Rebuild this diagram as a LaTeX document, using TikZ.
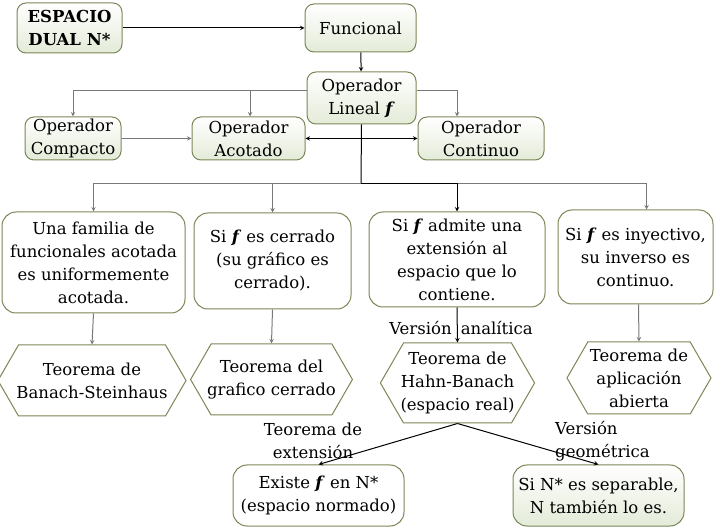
\documentclass[tikz,border=0pt]{standalone}
\usepackage{fontspec}
\setmainfont{DejaVu Serif}
\usepackage{tikz}
\usetikzlibrary{shapes.symbols}
\definecolor{boxline}{RGB}{122,135,86}
\definecolor{boxfill}{RGB}{228,235,216}
\definecolor{linkgray}{RGB}{120,120,120}
\newcommand{\fb}{\textbf{\textit{f}}}

\begin{document}
\begin{tikzpicture}[x=1pt, y=-1pt,
    concept/.style={rectangle, rounded corners=9pt, draw=boxline, line width=1pt, top color=white, bottom color=boxfill, align=center, inner sep=1pt, font=\fontsize{16.5}{23}\selectfont},
    result/.style={rectangle, rounded corners=14pt, draw=boxline, line width=1pt, fill=white, align=center, inner sep=1pt, font=\fontsize{16.5}{23}\selectfont},
    theorem/.style={signal, signal to=west and east, signal pointer angle=120, draw=boxline, line width=1pt, fill=white, align=center, inner sep=1pt, font=\fontsize{16.5}{23}\selectfont},
    tag/.style={align=center, inner sep=0pt, font=\fontsize{16.5}{23}\selectfont},
    dependency/.style={->, >=stealth, line width=1pt},
    branch/.style={->, >=stealth, line width=1pt, draw=linkgray}
]
    \useasboundingbox (0,0) rectangle (721,529);

    % Top row
    \node[concept, minimum width=105pt, minimum height=50pt, font=\fontsize{16.5}{23}\selectfont\bfseries] (dual) at (69.5,28) {ESPACIO\\DUAL N*};
    \node[concept, minimum width=111pt, minimum height=48pt] (funcional) at (360.5,28) {Funcional};
    \node[concept, minimum width=109pt, minimum height=52pt] (lineal) at (361.5,98) {Operador\\Lineal \fb};

    % Operators
    \node[concept, minimum width=96pt, minimum height=43pt] (compacto) at (73,138.5) {Operador\\Compacto};
    \node[concept, minimum width=113pt, minimum height=43pt] (acotado) at (248.5,138.5) {Operador\\Acotado};
    \node[concept, minimum width=126pt, minimum height=43pt] (continuo) at (481,138.5) {Operador\\Continuo};
    \coordinate (hub) at (361,184);

    % Conditions
    \node[result, minimum width=183pt, minimum height=101pt] (familia) at (93.5,262.5) {Una familia de\\funcionales acotada\\es uniformemente\\acotada.};
    \node[result, minimum width=157pt, minimum height=96pt] (cerrado) at (272.5,261) {Si \fb{} es cerrado\\(su gráfico es\\cerrado).};
    \node[result, minimum width=176pt, minimum height=95pt] (extension) at (457,259.5) {Si \fb{} admite una\\extensión al\\espacio que lo\\contiene.};
    \node[result, minimum width=155pt, minimum height=94pt] (inyectivo) at (635.5,257) {Si \fb{} es inyectivo,\\su inverso es\\continuo.};

    % Theorems
    \node[theorem, minimum width=184pt, minimum height=71pt, inner xsep=-2pt] (banach) at (92,380.5) {Teorema de\\Banach-Steinhaus};
    \node[theorem, minimum width=157pt, minimum height=71pt, inner xsep=-4pt] (grafico) at (271.5,379.5) {Teorema del\\grafico cerrado};
    \node[theorem, minimum width=153pt, minimum height=80pt, inner xsep=-3pt] (hahn) at (457.5,383) {Teorema de\\Hahn-Banach\\(espacio real)};
    \node[theorem, minimum width=144pt, minimum height=72pt] (abierta) at (639,378) {Teorema de\\aplicación\\abierta};

    % Consequences
    \node[result, minimum width=171pt, minimum height=61pt] (existe) at (318.5,495.5) {Existe \fb{} en N*\\(espacio normado)};
    \node[concept, rounded corners=14pt, minimum width=171pt, minimum height=61pt] (separable) at (598.5,495.5) {Si N* es separable,\\N también lo es.};

    % Labels
    \node[tag] (analitica) at (461,328) {Versión\hspace{4pt} analítica};
    \node[tag] (extlbl) at (313,441) {Teorema de\\extensión};
    \node[tag, align=left, anchor=west] (geolbl) at (555,441) {Versión\\geométrica};

    % Connections
    \draw[dependency] (dual) -- (funcional);
    \draw[dependency] (funcional) -- (lineal);
    \draw[branch] ([yshift=7pt]lineal.west) -| (compacto.north);
    \draw[branch] ([yshift=7pt]lineal.west) -| ([xshift=1.5pt]acotado.north);
    \draw[branch] ([yshift=7pt]lineal.east) -| ([xshift=-24pt]continuo.north);
    \draw[branch] (compacto) -- (acotado);
    \draw[line width=1pt] (lineal.south) -- (hub);
    \draw[dependency, <->] (acotado.east) -- (continuo.west);

    \draw[branch] (hub) -| (familia.north);
    \draw[branch] (hub) -| (cerrado.north);
    \draw[branch] (hub) -| ([xshift=11pt]inyectivo.north);
    \draw[dependency] (hub) -| (extension.north);

    \draw[branch] (familia.south) -- (banach.north);
    \draw[branch] (cerrado.south) -- (grafico.north);
    \draw[dependency] (extension.south) -- (hahn.north);
    \draw[branch] ([xshift=3pt]inyectivo.south) -- (abierta.north);

    \draw[dependency] (hahn.south) -- (existe.north);
    \draw[dependency] (hahn.south) -- (separable.north);
\end{tikzpicture}
\end{document}
